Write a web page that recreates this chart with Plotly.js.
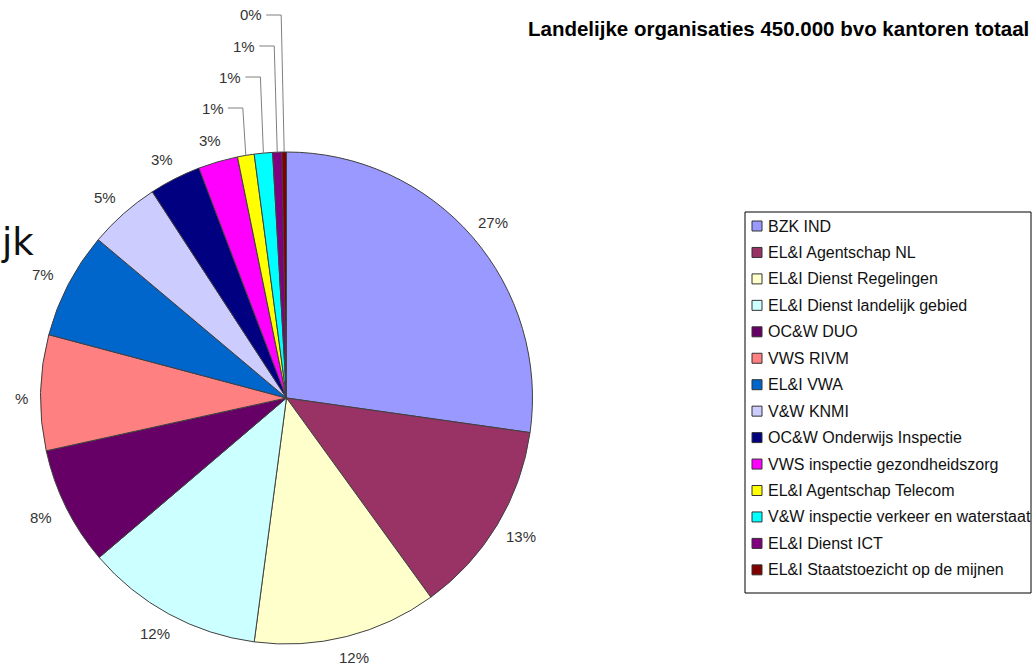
<!DOCTYPE html>
<html>
<head>
<meta charset="utf-8">
<script src="https://cdn.plot.ly/plotly-3.0.1.min.js"></script>
<style>html,body{margin:0;padding:0;background:#fff;}#chart{width:1032px;height:666px;}</style>
</head>
<body>
<div id="chart"></div>
<script>
const categories = [
  "BZK IND",
  "EL&I Agentschap NL",
  "EL&I Dienst Regelingen",
  "EL&I Dienst landelijk gebied",
  "OC&W DUO",
  "VWS RIVM",
  "EL&I VWA",
  "V&W KNMI",
  "OC&W Onderwijs Inspectie",
  "VWS inspectie gezondheidszorg",
  "EL&I Agentschap Telecom",
  "V&W inspectie verkeer en waterstaat",
  "EL&I Dienst ICT",
  "EL&I Staatstoezicht op de mijnen"
];
const values = [27.3, 12.8, 12.1, 11.7, 7.8, 7.6, 7.0, 4.7, 3.4, 2.6, 1.1, 1.2, 0.6, 0.3];
const colors = ["#9999FF", "#993366", "#FFFFCC", "#CCFFFF", "#660066", "#FF8080", "#0066CC",
                "#CCCCFF", "#000080", "#FF00FF", "#FFFF00", "#00FFFF", "#800080", "#800000"];
// label text as visible in the reference (the RIVM label's digit is hidden at the left edge)
const labelOverride = {5: "%"};
const titleText = "Landelijke organisaties 450.000 bvo kantoren totaal";
const fragmentText = "jk";

// layout geometry (pixels)
const W = 1032, H = 666;
const CX = 286.5, CY = 398, R = 246;
const LABEL_RX = 274, LABEL_RY = 268;
const leaderLevels = {10: 108, 11: 77, 12: 46, 13: 15};

const px = x => x / W;
const py = y => 1 - y / H;

const total = values.reduce((a, b) => a + b, 0);
const annotations = [];
const shapes = [];
const labelFont = {family: "Liberation Sans, Arial, sans-serif", size: 15, color: "#333"};

let cum = 0;
values.forEach((v, i) => {
  const mid = (cum + v / 2) / total * 2 * Math.PI;
  cum += v;
  let txt = Math.round(v / total * 100) + "%";
  const s = Math.sin(mid), c = Math.cos(mid);
  if (leaderLevels[i] !== undefined) {
    const bx = CX + R * s, by = CY - R * c;
    const ey = leaderLevels[i];
    const ex = bx - 3;
    const hx = ex - 15;
    shapes.push({type: "line", xref: "paper", yref: "paper", x0: px(bx), y0: py(by), x1: px(ex), y1: py(ey),
                 line: {color: "#808080", width: 1}});
    shapes.push({type: "line", xref: "paper", yref: "paper", x0: px(ex), y0: py(ey), x1: px(hx), y1: py(ey),
                 line: {color: "#808080", width: 1}});
    annotations.push({xref: "paper", yref: "paper", x: px(hx - 2), y: py(ey), xanchor: "right", yanchor: "middle",
                      text: txt, showarrow: false, font: labelFont});
  } else {
    let lx = CX + LABEL_RX * s, ly = CY - LABEL_RY * c;
    if (labelOverride[i] !== undefined) {
      txt = labelOverride[i];
      lx += 9; ly += 6;
    }
    annotations.push({xref: "paper", yref: "paper", x: px(lx), y: py(ly), xanchor: "center", yanchor: "middle",
                      text: txt, showarrow: false, font: labelFont});
  }
});

// Title
annotations.push({xref: "paper", yref: "paper", x: px(1031), y: py(28), xanchor: "right", yanchor: "middle",
                  text: "<b>" + titleText + "</b>", showarrow: false,
                  font: {family: "Liberation Sans, Arial, sans-serif", size: 20.5, color: "#000"}});
// Fragment text at the left edge
annotations.push({xref: "paper", yref: "paper", x: px(-1), y: py(242), xanchor: "left", yanchor: "middle",
                  text: fragmentText, showarrow: false,
                  font: {family: "DejaVu Sans, sans-serif", size: 37, color: "#111"}});

// Custom legend
const LG = {x0: 745, y0: 212, x1: 1031, y1: 593, firstY: 226, step: 26.45, sqX: 752, sq: 10, textX: 766};
shapes.push({type: "rect", xref: "paper", yref: "paper", x0: px(LG.x0), y0: py(LG.y0), x1: px(LG.x1), y1: py(LG.y1),
             line: {color: "#000", width: 1}, fillcolor: "rgba(0,0,0,0)"});
categories.forEach((cat, i) => {
  const yy = LG.firstY + i * LG.step;
  shapes.push({type: "rect", xref: "paper", yref: "paper",
               x0: px(LG.sqX), x1: px(LG.sqX + LG.sq), y0: py(yy - LG.sq / 2), y1: py(yy + LG.sq / 2),
               line: {color: "#333", width: 1}, fillcolor: colors[i]});
  annotations.push({xref: "paper", yref: "paper", x: px(LG.textX), y: py(yy), xanchor: "left", yanchor: "middle",
                    text: cat, showarrow: false,
                    font: {family: "Liberation Sans, Arial, sans-serif", size: 16, color: "#111"}});
});

const trace = {
  type: "pie",
  values: values,
  labels: categories,
  sort: false,
  direction: "clockwise",
  rotation: 0,
  textinfo: "none",
  hoverinfo: "label+percent",
  marker: {colors: colors, line: {color: "#404040", width: 1}},
  domain: {x: [(CX - R) / W, (CX + R) / W], y: [(H - CY - R) / H, (H - CY + R) / H]},
  showlegend: false
};

const layout = {
  width: W, height: H,
  margin: {l: 0, r: 0, t: 0, b: 0},
  paper_bgcolor: "#fff",
  plot_bgcolor: "#fff",
  showlegend: false,
  annotations: annotations,
  shapes: shapes
};

Plotly.newPlot("chart", [trace], layout, {displayModeBar: false, staticPlot: true});
</script>
</body>
</html>
